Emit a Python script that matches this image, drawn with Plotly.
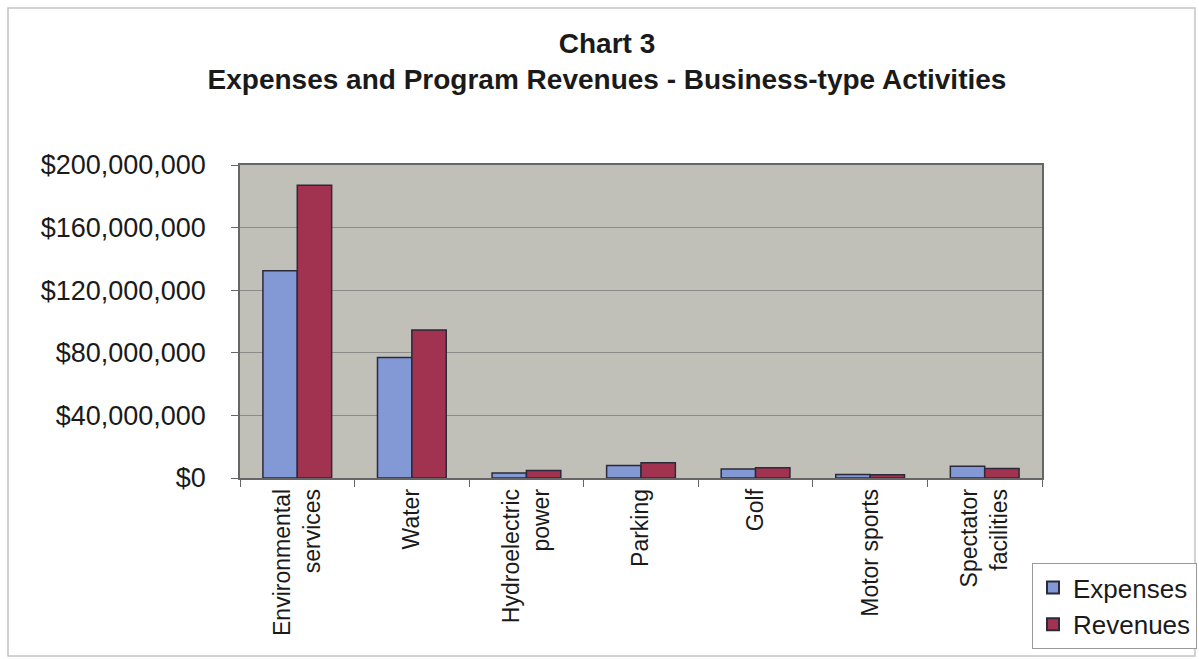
import plotly.graph_objects as go

categories = ["Environmental<br>services", "Water", "Hydroelectric<br>power", "Parking",
              "Golf", "Motor sports", "Spectator<br>facilities"]
expenses = [132_500_000, 77_000_000, 3_200_000, 8_000_000, 5_800_000, 2_200_000, 7_500_000]
revenues = [187_000_000, 94_600_000, 4_800_000, 9_700_000, 6_500_000, 2_000_000, 6_000_000]
y_ticks = [0, 40_000_000, 80_000_000, 120_000_000, 160_000_000, 200_000_000]

FONT = "Liberation Sans, Arial, sans-serif"
W, H = 1199, 659
L, R, T, B = 240, 157, 165, 181
pw, ph = W - L - R, H - T - B

fig = go.Figure()
fig.add_trace(go.Bar(name="Expenses", x=categories, y=expenses,
                     marker=dict(color="#8399d6", line=dict(color="#2a2a3a", width=1.5))))
fig.add_trace(go.Bar(name="Revenues", x=categories, y=revenues,
                     marker=dict(color="#a23350", line=dict(color="#2a2a3a", width=1.5))))

def px_x(p):
    return (p - L) / pw

def px_y(p):
    return (H - B - p) / ph

fig.add_shape(type="rect", xref="paper", yref="paper",
              x0=px_x(8), x1=px_x(1195), y0=px_y(656), y1=px_y(8),
              line=dict(color="#c4c4c4", width=1.5), fillcolor="rgba(0,0,0,0)", layer="below")

fig.update_layout(
    width=W, height=H,
    margin=dict(l=L, r=R, t=T, b=B, autoexpand=False),
    paper_bgcolor="white",
    plot_bgcolor="#c0c0b8",
    barmode="group", bargap=0.4, bargroupgap=0,
    font=dict(family=FONT, color="black"),
    title=dict(text="<b>Chart 3<br>Expenses and Program Revenues - Business-type Activities</b>",
               x=607 / W, xref="container", xanchor="center",
               y=1 - 53 / H, yref="container", yanchor="top",
               font=dict(size=28, family=FONT, color="#1a1a1a")),
    legend=dict(xref="container", yref="container",
                x=1032 / W, y=1 - 563 / H, xanchor="left", yanchor="top",
                bgcolor="white", bordercolor="#999999", borderwidth=1,
                font=dict(size=26, family=FONT, color="#1a1a1a"),
                itemsizing="constant", tracegroupgap=0),
    showlegend=True,
)

fig.update_xaxes(
    type="category", tickangle=-90,
    tickfont=dict(size=23, family=FONT, color="#1a1a1a"),
    showline=True, linecolor="#666666", linewidth=1.5, mirror=True,
    ticks="outside", tickson="boundaries", ticklen=7, tickcolor="#666666",
    showgrid=False,
)
fig.update_yaxes(
    range=[0, 200_000_000], tickvals=y_ticks, tickformat="$,.0f",
    tickfont=dict(size=27, family=FONT, color="#1a1a1a"),
    showline=True, linecolor="#666666", linewidth=1.5, mirror=True,
    ticks="outside", ticklen=7, tickcolor="#666666",
    ticklabelstandoff=20,
    showgrid=True, gridcolor="#8c8c8c", gridwidth=1,
    zeroline=False,
)

fig.write_html("out.html")
